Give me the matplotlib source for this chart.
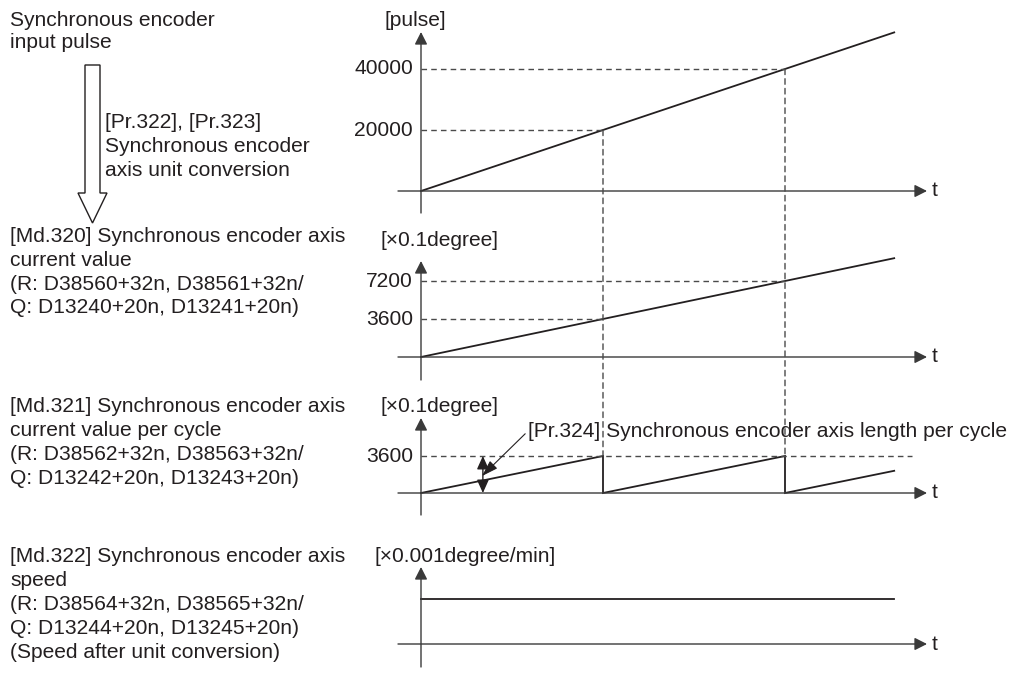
import matplotlib.pyplot as plt
from matplotlib.patches import Polygon, ConnectionPatch

plt.rcParams['font.family'] = ['Liberation Sans', 'DejaVu Sans']

# --------------------------------------------------
# Data
# --------------------------------------------------

t_marks = [1, 2]                      # times where one cycle is completed
t_line = [0, 1, 2, 2.6]

pulse = [0, 20000, 40000, 52000]      # input pulse [pulse]
pulse_ticks = [20000, 40000]

axis_pos = [0, 3600, 7200, 9360]      # current value [x0.1degree]
axis_pos_ticks = [3600, 7200]

cycle_t = [0, 1, 1, 2, 2, 2.6]
cycle_pos = [0, 3600, 0, 3600, 0, 2160]   # current value per cycle
cycle_len = 3600

speed_t = [0, 2.6]
speed = [1.0, 1.0]                    # constant speed after conversion

# --------------------------------------------------
# Layout (pixels)
# --------------------------------------------------

W, H = 1017, 673
X0 = 421          # pixel of t = 0
PX_T = 182        # pixels per time unit
X_AX_START = 398
X_AX_TIP = 927

FS = 15.1
TXT = '#231f20'
AXC = '#3a3a3a'

# y origin pixel, pixels per unit, y-axis bottom, y-axis tip
panels = [
    dict(y0=191, ppu=61 / 20000, bottom=213, tip=32, unit='[pulse]', ux=385, uy=21),
    dict(y0=357, ppu=38 / 3600, bottom=380, tip=261, unit='[×0.1degree]', ux=381, uy=240),
    dict(y0=493, ppu=37 / 3600, bottom=515, tip=418, unit='[×0.1degree]', ux=381, uy=407),
    dict(y0=644, ppu=45 / 1.0, bottom=667, tip=567, unit='[×0.001degree/min]', ux=375, uy=556),
]

fig = plt.figure(figsize=(W / 100, H / 100), dpi=100)

axes = []
for p in panels:
    ax = fig.add_axes([0, 0, 1, 1])
    ax.set_xlim(-X0 / PX_T, (W - X0) / PX_T)
    ax.set_ylim((p['y0'] - H) / p['ppu'], p['y0'] / p['ppu'])
    ax.axis('off')
    axes.append(ax)
ax1, ax2, ax3, ax4 = axes

ov = fig.add_axes([0, 0, 1, 1])
ov.set_xlim(0, W)
ov.set_ylim(H, 0)
ov.axis('off')

# --------------------------------------------------
# Axes arrows and unit labels
# --------------------------------------------------

arrow_kw = dict(arrowstyle='-|>,head_length=0.75,head_width=0.38', lw=1.0,
                color=AXC, shrinkA=0, shrinkB=0, mutation_scale=10)
for p in panels:
    ov.annotate('', xy=(X0, p['tip']), xytext=(X0, p['bottom']), arrowprops=arrow_kw)
    ov.annotate('', xy=(X_AX_TIP, p['y0']), xytext=(X_AX_START, p['y0']), arrowprops=arrow_kw)
    ov.text(X_AX_TIP + 5, p['y0'], 't', fontsize=FS, color=TXT, ha='left', va='center')
    ov.text(p['ux'], p['uy'], p['unit'], fontsize=FS, color=TXT, ha='left', va='center')

# --------------------------------------------------
# Curves
# --------------------------------------------------

line_kw = dict(color=TXT, lw=1.3, solid_joinstyle='miter')
ax1.plot(t_line, pulse, **line_kw)
ax2.plot(t_line, axis_pos, **line_kw)
ax3.plot(cycle_t, cycle_pos, **line_kw)
ax4.plot(speed_t, speed, **line_kw)

# --------------------------------------------------
# Dashed guides and tick labels
# --------------------------------------------------

dash_kw = dict(colors='#4a4a4a', linewidth=1.0, linestyles=(0, (4, 3)))
ax1.hlines(pulse_ticks, 0, t_marks, **dash_kw)
ax2.hlines(axis_pos_ticks, 0, t_marks, **dash_kw)
ax3.hlines(cycle_len, 0, 2.7, **dash_kw)

for t, v in zip(t_marks, pulse_ticks):
    con = ConnectionPatch(xyA=(t, v), coordsA=ax1.transData,
                          xyB=(t, cycle_len), coordsB=ax3.transData,
                          color='#4a4a4a', lw=1.0, linestyle=(0, (4, 3)))
    fig.add_artist(con)

tick_kw = dict(xytext=(-8, 0), textcoords='offset pixels', ha='right', va='center',
               fontsize=FS, color=TXT)
for v in pulse_ticks:
    ax1.annotate(str(v), xy=(0, v), **tick_kw)
for v in axis_pos_ticks:
    ax2.annotate(str(v), xy=(0, v), **tick_kw)
ax3.annotate(str(cycle_len), xy=(0, cycle_len), **tick_kw)

# cycle length indicator
ax3.annotate('', xy=(0.34, cycle_len), xytext=(0.34, 0),
             arrowprops=dict(arrowstyle='<|-|>,head_length=0.8,head_width=0.36',
                             lw=1.0, color=TXT, shrinkA=0, shrinkB=0, mutation_scale=10))
ax3.annotate('[Pr.324] Synchronous encoder axis length per cycle',
             xy=(0.335, 1650), xytext=(46, 45), textcoords='offset pixels',
             ha='left', va='center', fontsize=FS, color=TXT,
             arrowprops=dict(arrowstyle='-|>,head_length=1.0,head_width=0.32',
                             lw=0.8, color=TXT, shrinkA=0, shrinkB=0,
                             mutation_scale=10, relpos=(0, 0.5)))

# --------------------------------------------------
# Left side description
# --------------------------------------------------

hollow = Polygon([(85, 65), (100, 65), (100, 193), (107, 193), (92.5, 223),
                  (78, 193), (85, 193)], closed=True, facecolor='white',
                 edgecolor=TXT, lw=1.0)
ov.add_patch(hollow)

blocks = [
    (10, 20, 23, ['Synchronous encoder', 'input pulse']),
    (105, 122, 24, ['[Pr.322], [Pr.323]', 'Synchronous encoder', 'axis unit conversion']),
    (10, 237, 23.5, ['[Md.320] Synchronous encoder axis', 'current value',
                     '(R: D38560+32n, D38561+32n/', 'Q: D13240+20n, D13241+20n)']),
    (10, 407, 24, ['[Md.321] Synchronous encoder axis', 'current value per cycle',
                   '(R: D38562+32n, D38563+32n/', 'Q: D13242+20n, D13243+20n)']),
    (10, 557, 24, ['[Md.322] Synchronous encoder axis', 'speed',
                   '(R: D38564+32n, D38565+32n/', 'Q: D13244+20n, D13245+20n)',
                   '(Speed after unit conversion)']),
]
for x, y, step, lines in blocks:
    for i, s in enumerate(lines):
        ov.text(x, y + i * step, s, fontsize=FS, color=TXT, ha='left', va='center')

fig.savefig('out.png', dpi=100)
